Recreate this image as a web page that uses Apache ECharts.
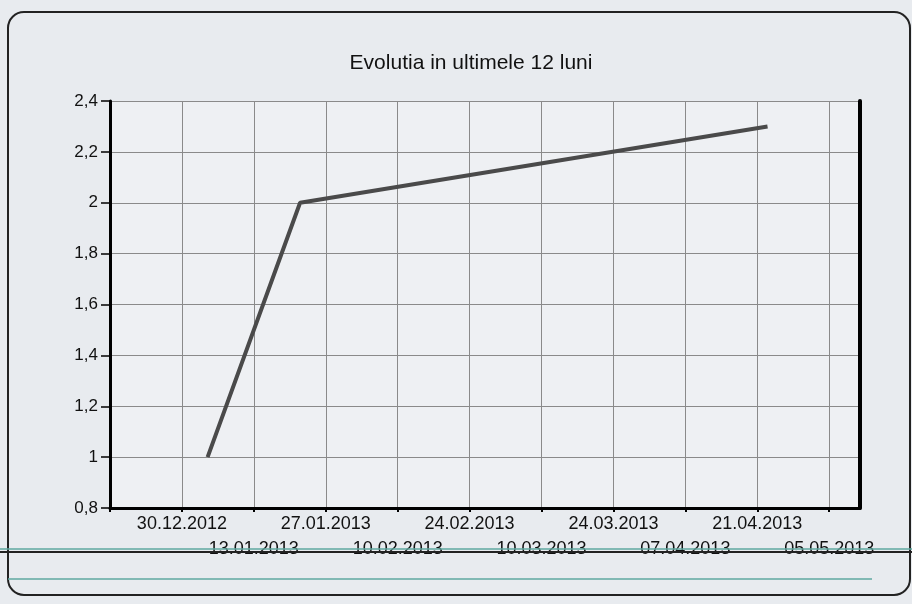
<!DOCTYPE html>
<html>
<head>
<meta charset="utf-8">
<script src="https://cdn.jsdelivr.net/npm/echarts@6/dist/echarts.min.js"></script>
<style>
html,body{margin:0;padding:0;background:#e8ebef;}
#c{width:912px;height:604px;}
</style>
</head>
<body>
<div id="c"></div>
<script>
// ---- data ----
var titleText = 'Evolutia in ultimele 12 luni';
var pointDates = ['04.01.2013', '22.01.2013', '23.04.2013'];
var pointValues = [1.0, 2.0, 2.3];
var tickLabels = ['30.12.2012', '13.01.2013', '27.01.2013', '10.02.2013', '24.02.2013',
                  '10.03.2013', '24.03.2013', '07.04.2013', '21.04.2013', '05.05.2013'];
var yMin = 0.8, yMax = 2.4, yStep = 0.2;
var axisStartDate = '16.12.2012';   // first (hidden) tick, two weeks before first label
var axisEndDate = '11.05.2013';
var tickDays = 14;

function parseDate(s) {
  var p = s.split('.');
  return Date.UTC(+p[2], +p[1] - 1, +p[0]);
}
var DAY = 86400000;
var base = parseDate(axisStartDate);
function dayOffset(s) { return Math.round((parseDate(s) - base) / DAY); }

var seriesData = pointDates.map(function (d, i) { return [dayOffset(d), pointValues[i]]; });

var chart = echarts.init(document.getElementById('c'), null, {renderer: 'canvas'});
var font = "'Liberation Sans Narrow','Arial Narrow','Liberation Sans',sans-serif";

chart.setOption({
  backgroundColor: '#e8ebef',
  animation: false,
  title: {
    text: titleText,
    left: 466, top: 48, textAlign: 'center',
    textStyle: {fontFamily: font, fontSize: 21, fontWeight: 'normal', color: '#111'}
  },
  grid: {left: 110, right: 52, top: 101, bottom: 96, show: true,
         backgroundColor: '#eef0f3', borderWidth: 0},
  xAxis: {
    type: 'value',
    min: 0,
    max: dayOffset(axisEndDate),
    interval: tickDays,
    axisLine: {show: true, onZero: false, lineStyle: {color: '#000', width: 3}},
    axisTick: {show: true, length: 4, lineStyle: {color: '#000', width: 2}},
    splitLine: {show: true, lineStyle: {color: '#8a8a8a', width: 1}},
    axisLabel: {
      fontFamily: font, fontSize: 18, color: '#111', margin: 4, lineHeight: 25,
      showMinLabel: true, showMaxLabel: false,
      formatter: function (v) {
        var idx = Math.round(v / tickDays) - 1;
        if (idx < 0 || idx >= tickLabels.length) return '';
        return (idx % 2 === 1 ? '\n' : '') + tickLabels[idx];
      }
    }
  },
  yAxis: [{
    type: 'value',
    min: yMin, max: yMax, interval: yStep,
    axisLine: {show: true, lineStyle: {color: '#000', width: 3}},
    axisTick: {show: true, length: 9, lineStyle: {color: '#000', width: 1.5}},
    splitLine: {show: true, lineStyle: {color: '#8a8a8a', width: 1}},
    axisLabel: {
      fontFamily: font, fontSize: 17, color: '#111', margin: 12,
      formatter: function (v) { return String(Math.round(v * 10) / 10).replace('.', ','); }
    }
  }, {
    type: 'value', position: 'right',
    min: yMin, max: yMax, interval: yStep,
    axisLine: {show: true, lineStyle: {color: '#000', width: 4}},
    axisTick: {show: false}, axisLabel: {show: false}, splitLine: {show: false}
  }],
  series: [{
    type: 'line',
    data: seriesData,
    showSymbol: false,
    lineStyle: {color: '#4a4a4a', width: 4},
    z: 5
  }],
  graphic: [
    {type: 'rect', shape: {x: 8, y: 12, width: 902, height: 583, r: 16},
     style: {fill: 'none', stroke: '#222', lineWidth: 2}, z: -1, silent: true},
    {type: 'line', shape: {x1: 0, y1: 549, x2: 912, y2: 549},
     style: {stroke: '#5fa8a0', lineWidth: 1.5}, z: 100, silent: true},
    {type: 'line', shape: {x1: 0, y1: 552, x2: 912, y2: 552},
     style: {stroke: '#222', lineWidth: 2}, z: 100, silent: true},
    {type: 'line', shape: {x1: 8, y1: 579, x2: 872, y2: 579},
     style: {stroke: '#5fa8a0', lineWidth: 1.5}, z: 100, silent: true}
  ]
});
</script>
</body>
</html>
